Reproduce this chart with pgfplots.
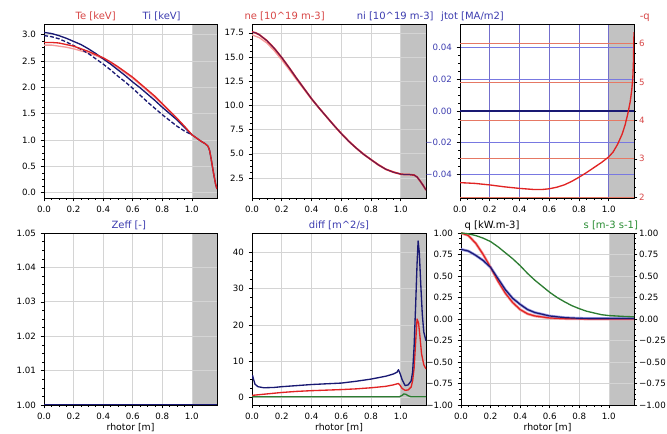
\documentclass[border=0pt]{standalone}
\usepackage{fontspec}
\setmainfont{DejaVu Sans}
\usepackage{pgfplots}
\pgfplotsset{compat=1.18}

\definecolor{cred}{RGB}{225,35,35}
\definecolor{cpink}{RGB}{245,155,155}
\definecolor{cnavy}{RGB}{25,25,115}
\definecolor{clblue}{RGB}{150,150,225}
\definecolor{cgreen}{RGB}{45,125,50}
\definecolor{tred}{RGB}{215,70,70}
\definecolor{tblue}{RGB}{60,60,175}
\definecolor{tgreen}{RGB}{40,140,50}
\definecolor{shade}{RGB}{194,194,194}
\definecolor{gridc}{RGB}{212,212,212}
\definecolor{jgrid}{RGB}{120,120,225}
\definecolor{vgrid}{RGB}{115,110,205}
\definecolor{qgrid}{RGB}{230,120,100}

\tikzset{ttl/.style={font=\fontsize{7.5}{9}\selectfont, anchor=base west, yshift=3.5pt}}

\pgfplotsset{
  panel/.style={
    anchor=south west, scale only axis, clip mode=individual,
    xmin=0, xmax=1.17,
    xtick={0,0.2,0.4,0.6,0.8,1.0},
    xticklabels={0.0,0.2,0.4,0.6,0.8,1.0},
    grid=major, major grid style={gridc, line width=0.5pt},
    tick align=outside, tick pos=left,
    minor x tick num=3, minor y tick num=3,
    major tick length=2.5pt, minor tick length=1.4pt,
    every tick/.style={black, line width=0.4pt},
    tick label style={font=\fontsize{6.5}{7.5}\selectfont},
    /pgf/number format/assume math mode=true,
    axis line style={black, line width=0.5pt},
    every axis plot/.append style={line width=1pt, line join=round},
    every axis x label/.style={at={(rel axis cs:0.5,0)}, anchor=center,
      yshift=-17pt, font=\fontsize{7}{8}\selectfont},
  },
  twin/.style={
    anchor=south west, scale only axis, clip mode=individual,
    xmin=0, xmax=1.17, axis x line=none, axis y line*=right,
    xtick=\empty, xmajorgrids=false,
    tick align=outside, minor y tick num=3,
    major tick length=2.5pt, minor tick length=1.4pt,
    every tick/.style={black, line width=0.4pt},
    tick label style={font=\fontsize{6.5}{7.5}\selectfont},
    yticklabel style={inner sep=1.2pt},
    /pgf/number format/assume math mode=true,
    axis line style={black, line width=0.5pt},
    every axis plot/.append style={line width=1pt, line join=round},
  },
  % background axis that only carries the grey edge band (so the grid lies above it)
  bg/.style={anchor=south west, scale only axis, hide axis,
    xmin=0, xmax=1.17, ymin=0, ymax=1},
  shadeband/.style={fill=shade, draw=none, forget plot},
}

\begin{document}
\begin{tikzpicture}
\path[use as bounding box] (0,0) rectangle (500.25pt,325.5pt);

% ---- Te / Ti
\begin{axis}[bg, at={(33pt,177pt)}, width=129.75pt, height=130.5pt]
\addplot[shadeband] coordinates {(1,0) (1,1) (1.17,1) (1.17,0)};
\end{axis}
\begin{axis}[panel, at={(33pt,177pt)}, width=129.75pt, height=130.5pt,
  ymin=-0.1, ymax=3.2, ytick={0,0.5,1,1.5,2,2.5,3},
  yticklabel style={/pgf/number format/.cd, fixed, fixed zerofill, precision=1}]
\addplot[cpink] coordinates {(0,2.80) (0.05,2.80) (0.1,2.78) (0.15,2.76) (0.2,2.73) (0.25,2.69)
  (0.3,2.65) (0.35,2.60) (0.4,2.54) (0.5,2.37) (0.6,2.17) (0.7,1.93) (0.8,1.68) (0.9,1.40) (1.0,1.10)};
\addplot[cnavy, dash pattern=on 3pt off 1.5pt] coordinates {(0,2.98) (0.05,2.96) (0.1,2.92)
  (0.15,2.86) (0.2,2.79) (0.25,2.72) (0.3,2.64) (0.35,2.54) (0.4,2.44) (0.45,2.33) (0.5,2.21)
  (0.55,2.10) (0.6,1.98) (0.65,1.85) (0.7,1.72) (0.75,1.60) (0.8,1.48) (0.85,1.37) (0.9,1.26)
  (0.95,1.17) (1.0,1.10)};
\addplot[cnavy] coordinates {(0,3.04) (0.05,3.02) (0.1,2.98) (0.15,2.93) (0.2,2.87) (0.25,2.81)
  (0.3,2.73) (0.35,2.64) (0.4,2.54) (0.45,2.44) (0.5,2.33) (0.55,2.22) (0.6,2.10) (0.65,1.99)
  (0.7,1.87) (0.75,1.75) (0.8,1.62) (0.85,1.50) (0.9,1.38) (0.95,1.24) (1.0,1.10) (1.03,1.04)
  (1.06,0.98) (1.09,0.93) (1.11,0.88) (1.12,0.80) (1.13,0.65) (1.14,0.48) (1.15,0.32) (1.16,0.17)
  (1.17,0.07)};
\addplot[cred] coordinates {(0,2.85) (0.05,2.85) (0.1,2.84) (0.15,2.81) (0.2,2.78) (0.25,2.73)
  (0.3,2.68) (0.35,2.62) (0.4,2.56) (0.45,2.48) (0.5,2.39) (0.55,2.29) (0.6,2.19) (0.65,2.07)
  (0.7,1.95) (0.75,1.83) (0.8,1.69) (0.85,1.55) (0.9,1.41) (0.95,1.26) (1.0,1.10) (1.03,1.04)
  (1.06,0.98) (1.09,0.93) (1.11,0.88) (1.12,0.80) (1.13,0.65) (1.14,0.48) (1.15,0.32) (1.16,0.17)
  (1.17,0.07)};
\node[ttl, text=tred] at (rel axis cs:0.156,1) {Te [keV]};
\node[ttl, text=tblue] at (rel axis cs:0.543,1) {Ti [keV]};
\end{axis}

% ---- ne / ni
\begin{axis}[bg, at={(189pt,177pt)}, width=130.5pt, height=130.5pt]
\addplot[shadeband] coordinates {(1,0) (1,1) (1.17,1) (1.17,0)};
\end{axis}
\begin{axis}[panel, at={(189pt,177pt)}, width=130.5pt, height=130.5pt,
  ymin=0.43, ymax=18.42, ytick={2.5,5,7.5,10,12.5,15,17.5},
  yticklabel style={/pgf/number format/.cd, fixed, fixed zerofill, precision=1}]
\addplot[cpink] coordinates {(0,17.3) (0.05,17.0) (0.1,16.45) (0.15,15.65) (0.2,14.7) (0.25,13.7)
  (0.3,12.65) (0.35,11.65) (0.4,10.65) (0.5,8.85) (0.6,7.1) (0.7,5.6) (0.8,4.4) (0.9,3.4) (1.0,2.9)};
\addplot[cred, line width=1.3pt] coordinates {(0,17.6) (0.025,17.5) (0.05,17.3) (0.075,17.0)
  (0.1,16.7) (0.15,15.9) (0.2,14.95) (0.25,13.9) (0.3,12.8) (0.35,11.75) (0.4,10.7) (0.45,9.75)
  (0.5,8.85) (0.55,7.95) (0.6,7.1) (0.65,6.3) (0.7,5.6) (0.75,4.95) (0.8,4.4) (0.85,3.85) (0.9,3.4)
  (0.95,3.1) (1.0,2.9) (1.03,2.85) (1.06,2.85) (1.09,2.8) (1.11,2.6) (1.13,2.2) (1.15,1.75)
  (1.17,1.25)};
\addplot[cnavy!70!cred, line width=0.6pt] coordinates {(0,17.6) (0.025,17.5) (0.05,17.3) (0.075,17.0)
  (0.1,16.7) (0.15,15.9) (0.2,14.95) (0.25,13.9) (0.3,12.8) (0.35,11.75) (0.4,10.7) (0.45,9.75)
  (0.5,8.85) (0.55,7.95) (0.6,7.1) (0.65,6.3) (0.7,5.6) (0.75,4.95) (0.8,4.4) (0.85,3.85) (0.9,3.4)
  (0.95,3.1) (1.0,2.9) (1.03,2.85) (1.06,2.85) (1.09,2.8) (1.11,2.6) (1.13,2.2) (1.15,1.75)
  (1.17,1.25)};
\node[ttl, text=tred] at (rel axis cs:-0.07,1) {ne [10\textasciicircum19 m-3]};
\node[ttl, text=tblue] at (rel axis cs:0.575,1) {ni [10\textasciicircum19 m-3]};
\end{axis}

% ---- jtot / q
\begin{axis}[bg, at={(345pt,177pt)}, width=130.5pt, height=130.5pt]
\addplot[shadeband] coordinates {(1,0) (1,1) (1.17,1) (1.17,0)};
\end{axis}
\begin{axis}[panel, at={(345pt,177pt)}, width=130.5pt, height=130.5pt,
  ymin=-0.055, ymax=0.055, ytick={-0.04,-0.02,0,0.02,0.04},
  scaled y ticks=false,
  yticklabels={−0.04,−0.02,0.00,0.02,0.04},
  yticklabel style={text=tblue},
  major x grid style={vgrid, line width=0.5pt},
  major y grid style={jgrid, line width=0.5pt}]
\addplot[cnavy, line width=1.2pt] coordinates {(0,0) (1.17,0)};
\node[ttl, text=tblue] at (rel axis cs:-0.135,1) {jtot [MA/m2]};
\end{axis}
\begin{axis}[twin, at={(345pt,177pt)}, width=130.5pt, height=130.5pt,
  ymin=1.98, ymax=6.51, ytick={2,3,4,5,6},
  ymajorgrids, major y grid style={qgrid, line width=0.5pt},
  yticklabel style={text=tred}]
\addplot[cred] coordinates {(0,2.38) (0.1,2.36) (0.2,2.32) (0.3,2.27) (0.4,2.23) (0.5,2.2)
  (0.55,2.2) (0.6,2.22) (0.65,2.26) (0.7,2.32) (0.75,2.41) (0.8,2.52) (0.85,2.64) (0.9,2.77)
  (0.95,2.9) (1.0,3.05) (1.03,3.18) (1.06,3.38) (1.09,3.64) (1.11,3.88) (1.13,4.2) (1.145,4.5)
  (1.155,4.8) (1.162,5.1) (1.166,5.5) (1.17,6.3)};
\node[ttl, text=tred] at (rel axis cs:1.006,1) {-q};
\end{axis}

% ---- Zeff
\begin{axis}[bg, at={(33pt,21.75pt)}, width=129.75pt, height=129pt]
\addplot[shadeband] coordinates {(1,0) (1,1) (1.17,1) (1.17,0)};
\end{axis}
\begin{axis}[panel, at={(33pt,21.75pt)}, width=129.75pt, height=129pt,
  ymin=1.0, ymax=1.05, ytick={1,1.01,1.02,1.03,1.04,1.05},
  yticklabel style={/pgf/number format/.cd, fixed, fixed zerofill, precision=2},
  xlabel={rhotor [m]}]
\addplot[cnavy, line width=1.2pt] coordinates {(0,1.0) (1.17,1.0)};
\node[ttl, text=tblue, anchor=base] at (rel axis cs:0.49,1) {Zeff [-]};
\end{axis}

% ---- diff
\begin{axis}[bg, at={(189pt,21.75pt)}, width=130.5pt, height=129pt]
\addplot[shadeband] coordinates {(1,0) (1,1) (1.17,1) (1.17,0)};
\end{axis}
\begin{axis}[panel, at={(189pt,21.75pt)}, width=130.5pt, height=129pt,
  ymin=-2.16, ymax=45.4, ytick={0,10,20,30,40},
  xlabel={rhotor [m]}]
\addplot[cgreen] coordinates {(0,0.1) (0.5,0.1) (0.99,0.1) (1.01,0.5) (1.02,0.9) (1.035,0.8)
  (1.05,0.4) (1.07,0.1) (1.17,0.1)};
\addplot[cred] coordinates {(0,0.5) (0.05,0.7) (0.1,0.9) (0.2,1.3) (0.3,1.6) (0.4,1.8) (0.5,1.95)
  (0.6,2.1) (0.7,2.3) (0.8,2.6) (0.9,3.0) (0.95,3.4) (0.985,3.8) (0.995,3.3) (1.01,2.4) (1.03,1.9)
  (1.05,2.0) (1.07,2.8) (1.08,4.5) (1.09,8) (1.1,15) (1.11,21.6) (1.12,20.5) (1.13,16.5)
  (1.14,12) (1.155,9) (1.17,7.8)};
\addplot[cnavy] coordinates {(0,5.0) (0.004,6.0) (0.01,5.0) (0.02,3.6) (0.04,2.9) (0.08,2.6)
  (0.15,2.7) (0.2,2.9) (0.3,3.2) (0.4,3.5) (0.5,3.7) (0.6,3.9) (0.7,4.4) (0.8,5.0) (0.9,5.8)
  (0.95,6.4) (0.975,6.9) (0.985,7.6) (0.995,6.6) (1.01,4.8) (1.03,3.2) (1.05,3.4) (1.07,4.5)
  (1.08,7) (1.09,14) (1.1,25) (1.11,37) (1.117,43.2) (1.125,40) (1.135,31) (1.145,23) (1.155,18)
  (1.17,15.6)};
\node[ttl, text=tblue, anchor=base] at (rel axis cs:0.5,1) {diff [m\textasciicircum2/s]};
\end{axis}

% ---- q / s sources
\begin{axis}[bg, at={(345.75pt,21.75pt)}, width=129.75pt, height=129pt]
\addplot[shadeband] coordinates {(1,0) (1,1) (1.17,1) (1.17,0)};
\end{axis}
\begin{axis}[panel, at={(345.75pt,21.75pt)}, width=129.75pt, height=129pt,
  ymin=-1, ymax=1, ytick={-1,-0.75,-0.5,-0.25,0,0.25,0.5,0.75,1},
  yticklabels={−1.00,−0.75,−0.50,−0.25,0.00,0.25,0.50,0.75,1.00},
  xlabel={rhotor [m]}]
\addplot[cpink, line width=2pt] coordinates {(0,1.0) (0.05,0.97) (0.1,0.88) (0.15,0.75) (0.2,0.6)
  (0.25,0.44) (0.3,0.3) (0.35,0.19) (0.4,0.11) (0.45,0.06) (0.5,0.035) (0.6,0.012) (0.7,0.004)
  (0.8,0.001) (1.17,0)};
\addplot[clblue, line width=2pt] coordinates {(0,0.81) (0.05,0.79) (0.1,0.74) (0.15,0.68) (0.2,0.6)
  (0.25,0.47) (0.3,0.34) (0.35,0.24) (0.4,0.17) (0.45,0.11) (0.5,0.075) (0.6,0.035) (0.7,0.016)
  (0.8,0.008) (0.9,0.006) (1.0,0.005) (1.17,0.005)};
\addplot[cred, line width=0.9pt] coordinates {(0,1.0) (0.05,0.97) (0.1,0.88) (0.15,0.75) (0.2,0.6)
  (0.25,0.44) (0.3,0.3) (0.35,0.19) (0.4,0.11) (0.45,0.06) (0.5,0.035) (0.6,0.012) (0.7,0.004)
  (0.8,0.001) (1.17,0)};
\addplot[cnavy, line width=0.9pt] coordinates {(0,0.81) (0.05,0.79) (0.1,0.74) (0.15,0.68) (0.2,0.6)
  (0.25,0.47) (0.3,0.34) (0.35,0.24) (0.4,0.17) (0.45,0.11) (0.5,0.075) (0.6,0.035) (0.7,0.016)
  (0.8,0.008) (0.9,0.006) (1.0,0.005) (1.17,0.005)};
\node[ttl] at (rel axis cs:-0.006,1) {q [kW.m-3]};
\end{axis}
\begin{axis}[twin, at={(345.75pt,21.75pt)}, width=129.75pt, height=129pt,
  ymin=-1, ymax=1, ytick={-1,-0.75,-0.5,-0.25,0,0.25,0.5,0.75,1},
  yticklabels={−1.00,−0.75,−0.50,−0.25,0.00,0.25,0.50,0.75,1.00}]
\addplot[cgreen] coordinates {(0,1.0) (0.05,0.99) (0.1,0.97) (0.15,0.94) (0.2,0.9) (0.25,0.84)
  (0.3,0.77) (0.35,0.7) (0.4,0.62) (0.45,0.53) (0.5,0.45) (0.55,0.38) (0.6,0.31) (0.65,0.25)
  (0.7,0.2) (0.75,0.155) (0.8,0.12) (0.85,0.09) (0.9,0.07) (0.95,0.05) (1.0,0.04) (1.1,0.03)
  (1.17,0.025)};
\node[ttl, text=tgreen] at (rel axis cs:0.682,1) {s [m-3 s-1]};
\end{axis}
\end{tikzpicture}
\end{document}
